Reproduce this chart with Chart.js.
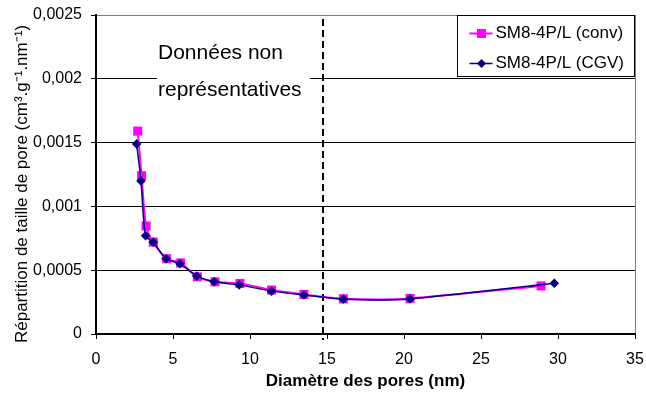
<!DOCTYPE html>
<html>
<head>
<meta charset="utf-8">
<script src="https://cdn.jsdelivr.net/npm/chart.js@4/dist/chart.umd.min.js"></script>
<style>
  body { margin: 0; background: #fff; }
  canvas { display: block; }
</style>
</head>
<body>
<canvas id="poreChart" width="646" height="396"></canvas>
<script>
// pore size distribution
const convDiam = [2.71, 2.96, 3.25, 3.72, 4.59, 5.5, 6.58, 7.73, 9.35, 11.4, 13.5, 16.06, 20.39, 28.9];
const convDist = [0.00159, 0.00124, 0.000846, 0.00072, 0.00059, 0.000557, 0.000448, 0.000409, 0.000396, 0.000344, 0.00031, 0.000276, 0.000279, 0.000377];
const cgvDiam = [2.64, 2.92, 3.22, 3.72, 4.55, 5.45, 6.54, 7.68, 9.3, 11.4, 13.5, 16.06, 20.39, 29.76];
const cgvDist = [0.00149, 0.0012, 0.00077, 0.00072, 0.00059, 0.00055, 0.000455, 0.000409, 0.000385, 0.000336, 0.000306, 0.000273, 0.000275, 0.000398];
const seriesLabels = ['SM8-4P/L (conv)', 'SM8-4P/L (CGV)'];
const limitDiam = 14.75; // limit of representative data
const noteLines = ['Données non', 'représentatives'];
const xTitle = 'Diamètre des pores (nm)';
const yTitle = 'Répartition de taille de pore (cm³.g⁻¹.nm⁻¹)';

const FONT = "'Liberation Sans', Arial, sans-serif";

const toPoints = (xs, ys) => xs.map((x, i) => ({ x: x, y: ys[i] }));

// dashed limit + "non representative" note
const notePlugin = {
  id: 'note',
  beforeDatasetsDraw(chart) {
    const { ctx, chartArea, scales } = chart;
    ctx.save();
    ctx.fillStyle = '#fff';
    ctx.fillRect(chartArea.left + 61, chartArea.top + 20, 153, 75);
    ctx.fillStyle = '#000';
    ctx.font = '21px ' + FONT;
    ctx.textBaseline = 'middle';
    ctx.fillText(noteLines[0], chartArea.left + 62, chartArea.top + 38);
    ctx.fillText(noteLines[1], chartArea.left + 62, chartArea.top + 75);
    const x = Math.round(scales.x.getPixelForValue(limitDiam));
    ctx.strokeStyle = '#000';
    ctx.lineWidth = 2;
    ctx.setLineDash([7, 4]);
    ctx.beginPath();
    ctx.moveTo(x, chartArea.top + 4);
    ctx.lineTo(x, chartArea.bottom + 6);
    ctx.stroke();
    ctx.restore();
  },
  afterDraw(chart) {
    const { ctx, chartArea } = chart;
    ctx.save();
    // y title, rotated
    ctx.font = '17px ' + FONT;
    ctx.fillStyle = '#000';
    ctx.translate(22, 184);
    ctx.rotate(-Math.PI / 2);
    ctx.textAlign = 'center';
    ctx.textBaseline = 'middle';
    ctx.fillText(yTitle, 0, 0);
    ctx.restore();

    // legend box
    ctx.save();
    const bx = chartArea.right - 177.5, by = chartArea.top + 0.5;
    ctx.fillStyle = '#fff';
    ctx.fillRect(bx, by, 177, 61);
    ctx.strokeStyle = '#000';
    ctx.lineWidth = 1;
    ctx.strokeRect(bx, by, 177, 61);
    ctx.font = '17px ' + FONT;
    ctx.textBaseline = 'middle';
    chart.data.datasets.forEach((ds, i) => {
      const y = by + 18 + i * 30;
      ctx.strokeStyle = ds.borderColor;
      ctx.lineWidth = ds.borderWidth;
      ctx.beginPath();
      ctx.moveTo(bx + 12, y);
      ctx.lineTo(bx + 35, y);
      ctx.stroke();
      ctx.fillStyle = ds.pointBackgroundColor;
      ctx.beginPath();
      if (ds.pointStyle === 'rect') {
        ctx.rect(bx + 19.5, y - 4.5, 9, 9);
      } else {
        ctx.moveTo(bx + 24, y - 4.5);
        ctx.lineTo(bx + 28.5, y);
        ctx.lineTo(bx + 24, y + 4.5);
        ctx.lineTo(bx + 19.5, y);
        ctx.closePath();
      }
      ctx.fill();
      ctx.fillStyle = '#000';
      ctx.fillText(ds.label, bx + 38, y);
    });
    ctx.restore();
  }
};

const tickFmt = v => String(Number(v.toFixed(4))).replace('.', ',');

new Chart(document.getElementById('poreChart'), {
  type: 'line',
  data: {
    datasets: [
      {
        label: seriesLabels[0],
        data: toPoints(convDiam, convDist),
        borderColor: '#ff00ff',
        backgroundColor: '#ff00ff',
        pointBackgroundColor: '#ff00ff',
        pointBorderColor: '#ff00ff',
        pointStyle: 'rect',
        pointRadius: 6.4,
        pointBorderWidth: 0,
        borderWidth: 2,
        tension: 0.25,
        order: 1
      },
      {
        label: seriesLabels[1],
        data: toPoints(cgvDiam, cgvDist),
        borderColor: '#000080',
        backgroundColor: '#000080',
        pointBackgroundColor: '#000080',
        pointBorderColor: '#000080',
        pointStyle: 'rectRot',
        pointRadius: 4.8,
        pointBorderWidth: 0,
        borderWidth: 1.5,
        tension: 0.25,
        order: 0
      }
    ]
  },
  options: {
    responsive: false,
    animation: false,
    layout: { padding: { top: 15, right: 11, left: 0, bottom: 0 } },
    plugins: {
      legend: { display: false },
      tooltip: { enabled: false }
    },
    scales: {
      x: {
        type: 'linear',
        min: 0,
        max: 35,
        afterFit: s => { s.height = 62; s.paddingLeft = 0; s.paddingRight = 0; },
        ticks: { stepSize: 5, color: '#000', font: { family: FONT, size: 16 }, padding: 11, maxRotation: 0 },
        grid: {
          color: c => (c.tick && c.tick.value === 35 ? '#808080' : 'rgba(0,0,0,0)'),
          tickColor: '#000',
          tickLength: 5
        },
        border: { color: '#000', width: 2 },
        title: {
          display: true,
          text: xTitle,
          color: '#000',
          font: { family: FONT, size: 17, weight: 'bold' },
          padding: { top: 0, bottom: 4 }
        }
      },
      y: {
        min: 0,
        max: 0.0025,
        afterFit: s => { s.width = 96; s.paddingTop = 0; s.paddingBottom = 0; },
        ticks: { stepSize: 0.0005, color: '#000', font: { family: FONT, size: 16 }, padding: 9, callback: tickFmt },
        grid: {
          color: c => (c.tick && c.tick.value >= 0.0025 ? '#808080' : '#000'),
          tickColor: '#000',
          tickLength: 5
        },
        border: { color: '#000', width: 2 }
      }
    }
  },
  plugins: [notePlugin]
});
</script>
</body>
</html>
